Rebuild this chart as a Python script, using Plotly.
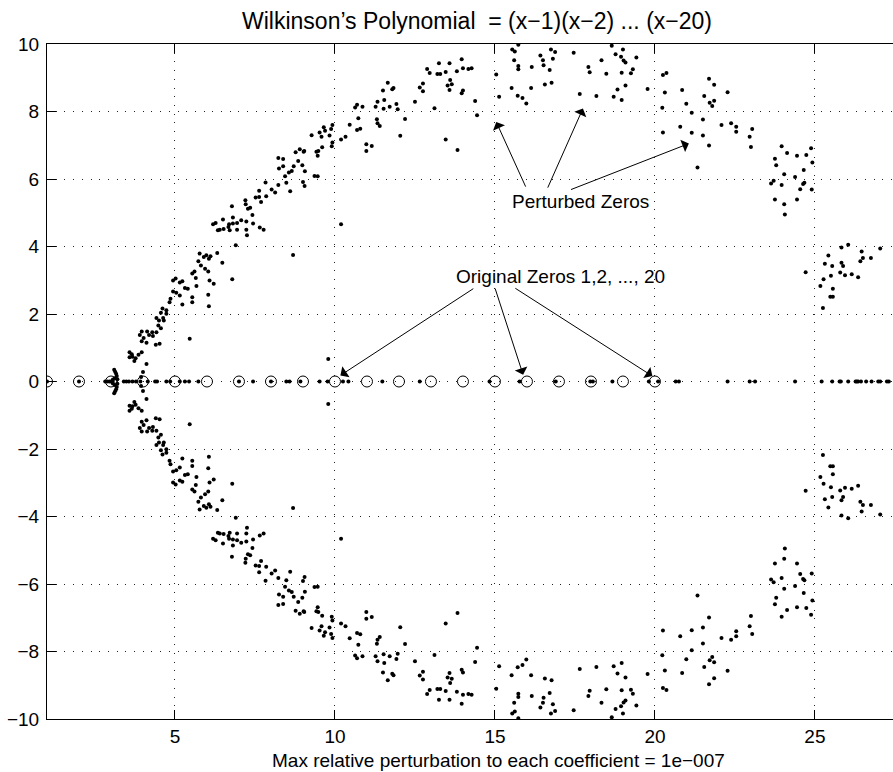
import plotly.graph_objects as go

# ---------------- data ----------------
original_zeros = list(range(1, 21))

# perturbed zeros on the real axis
real_roots = [1.0, 2.0, 2.82, 2.88, 2.95, 3.0, 3.05, 3.40, 3.48, 3.56, 3.67, 3.78,
              3.92, 4.15, 4.38, 4.44, 4.73, 4.85, 5.15, 5.31, 5.44, 5.73, 7.0, 7.44,
              8.0, 8.48, 8.58, 8.92, 9.52, 9.77, 10.25, 10.42, 11.48, 12.65,
              14.83, 15.77, 16.9, 17.98, 18.06, 18.67, 19.81, 20.10,
              20.65, 20.75, 22.27, 22.96, 23.13, 24.38, 25.21, 25.54, 25.77, 25.81,
              26.04, 26.27, 26.31, 26.35, 26.44, 26.60, 26.77, 26.98, 27.04, 27.25, 27.31]

# complex perturbed zeros, upper half (re, im); the lower half are their conjugates
near_three = [(3.10, 0.35), (3.13, 0.29), (3.16, 0.23), (3.18, 0.16), (3.12, 0.10),
              (3.06, 0.06), (3.20, 0.07)]

arc_low = [(6.06, 3.64), (6.48, 3.52), (6.79, 3.03), (5.73, 3.56), (5.81, 3.44), (5.94, 3.34),
           (6.04, 3.26), (5.61, 3.26), (5.54, 3.20), (5.65, 3.07), (5.67, 2.83), (6.08, 2.99),
           (6.21, 2.90), (6.04, 2.57), (6.06, 2.23), (4.94, 2.99), (5.02, 3.05), (5.15, 2.93),
           (5.23, 2.97), (5.31, 2.77), (5.40, 2.75), (4.94, 2.67), (5.04, 2.63), (5.15, 2.55),
           (5.23, 2.28), (5.54, 2.50), (5.54, 2.35), (4.86, 2.45), (4.83, 2.35), (4.73, 2.11),
           (4.73, 2.01), (4.61, 2.16), (4.56, 2.04), (4.63, 1.88), (4.50, 1.81), (4.42, 1.88),
           (4.65, 1.81), (4.56, 1.58), (4.42, 1.46), (4.48, 1.66), (4.29, 1.46), (4.19, 1.38),
           (4.31, 1.35), (4.13, 1.48), (3.96, 1.48), (3.90, 1.38), (4.02, 1.29), (3.96, 1.19),
           (4.11, 1.15), (4.40, 1.09), (4.52, 1.12), (5.46, 1.27), (3.58, 0.87), (3.65, 0.81),
           (3.67, 0.73), (3.58, 0.72), (3.77, 0.69), (3.73, 0.61), (3.86, 0.79), (3.96, 0.87),
           (4.11, 0.52), (4.00, 0.28), (3.94, 0.13)]

arc_mid = [(6.78, 5.19), (7.20, 5.37), (7.21, 5.25), (7.28, 5.12), (7.35, 5.15), (6.50, 4.80),
           (6.27, 4.70), (6.19, 4.66), (6.34, 4.48), (6.40, 4.50), (6.52, 4.52), (6.69, 4.66),
           (6.81, 4.86), (6.67, 4.58), (6.71, 4.48), (6.81, 4.68), (6.94, 4.70), (6.94, 4.50),
           (7.07, 4.78), (7.23, 4.74), (7.23, 4.50), (7.25, 4.33), (7.42, 4.93), (7.44, 4.68),
           (6.90, 4.04), (5.98, 3.74), (5.77, 3.79), (5.90, 3.69), (6.11, 3.71), (6.32, 3.81)]

arc_upper = [(7.65, 4.56), (7.77, 4.50), (7.52, 5.45), (7.63, 5.65), (7.63, 5.47), (7.69, 5.32),
             (7.85, 5.49), (7.83, 5.90), (8.02, 5.69), (8.13, 5.60), (8.23, 5.82), (8.23, 6.62),
             (8.38, 6.59), (8.25, 6.31), (8.38, 6.38), (8.44, 6.08), (8.48, 5.89), (8.60, 5.64),
             (8.56, 6.19), (8.65, 6.24), (8.71, 6.38), (8.85, 6.53), (8.77, 6.79), (8.90, 6.88),
             (9.02, 6.81), (9.04, 6.83), (8.98, 6.41), (9.06, 6.23), (9.00, 5.91), (9.05, 5.79),
             (9.36, 6.09), (9.46, 6.08), (9.27, 7.30), (9.42, 6.81), (9.48, 6.83), (9.46, 6.69),
             (9.60, 6.94), (9.52, 7.38), (9.58, 7.25), (9.65, 7.53), (9.69, 7.43), (9.83, 7.29),
             (9.88, 7.48), (9.92, 7.60), (9.90, 6.97), (9.92, 7.08), (10.19, 7.17), (10.33, 7.25),
             (10.46, 7.61), (10.63, 8.12), (10.69, 8.20), (10.86, 8.14), (10.73, 7.80), (10.69, 7.45),
             (10.79, 7.49), (10.98, 7.03), (10.98, 6.83), (11.15, 6.98), (11.27, 8.14), (11.33, 8.29),
             (11.31, 7.77), (11.33, 7.65), (11.40, 7.57), (11.50, 8.62), (11.54, 8.34), (11.52, 8.08),
             (11.65, 8.85), (11.71, 8.14), (11.79, 8.66), (11.83, 8.70), (11.92, 8.22), (11.96, 8.07),
             (12.04, 7.28), (12.19, 7.78), (12.50, 8.29), (12.65, 8.71), (12.75, 8.83), (12.75, 8.60),
             (12.88, 9.26), (12.96, 9.14), (13.11, 8.10), (13.20, 9.11), (13.29, 9.11), (13.25, 9.43),
             (13.46, 9.17), (13.46, 7.17), (13.58, 9.43), (13.60, 8.93), (13.52, 8.77), (13.65, 8.81),
             (13.58, 8.64), (13.81, 9.19), (13.96, 9.55), (14.00, 9.28), (13.83, 6.86), (13.96, 8.54),
             (14.00, 8.62), (8.69, 3.75), (10.19, 4.66), (9.79, 0.67)]

arc_top = [(14.17, 9.26), (14.27, 9.28), (14.38, 8.31), (14.44, 7.89), (15.04, 9.10), (15.13, 8.44),
           (15.54, 9.84), (15.62, 9.78), (15.73, 9.98), (15.60, 9.52), (15.73, 9.35), (15.73, 9.25),
           (16.15, 9.32), (15.52, 8.70), (15.71, 8.47), (15.86, 8.40), (15.98, 8.24), (16.13, 8.70),
           (16.42, 9.66), (16.50, 9.52), (16.52, 9.37), (16.71, 9.23), (16.56, 8.80), (16.77, 8.85),
           (16.75, 9.84), (16.88, 9.76), (16.81, 9.56), (17.46, 9.74), (17.65, 8.52), (17.92, 9.32),
           (17.96, 9.16), (18.17, 8.46), (18.33, 9.52), (18.48, 9.12), (18.65, 9.95), (18.77, 9.70),
           (19.00, 9.84), (18.94, 9.62), (19.02, 9.51), (19.08, 9.45), (18.96, 9.15), (19.31, 9.25),
           (19.25, 9.13), (19.42, 9.60), (18.83, 8.65), (19.08, 8.77), (18.71, 8.44), (18.96, 8.34),
           (19.77, 8.67), (20.25, 9.08), (20.36, 9.14), (20.31, 8.56), (20.23, 8.11), (20.25, 7.38)]

arc_right = [(20.85, 8.64), (20.98, 8.23), (21.15, 7.96), (20.79, 7.55), (21.15, 7.37), (21.33, 6.34),
             (21.50, 7.76), (21.50, 7.29), (21.54, 8.46), (21.69, 8.97), (21.85, 8.79), (21.71, 8.26),
             (21.79, 8.16), (21.85, 8.32), (21.69, 6.99), (22.08, 7.60), (22.27, 8.57), (22.38, 7.65),
             (22.54, 7.55), (22.54, 7.40), (22.96, 7.25), (23.04, 7.48), (23.00, 6.95), (23.96, 6.97),
             (24.13, 6.77), (23.75, 6.60), (23.79, 6.41), (24.04, 6.14), (24.38, 6.06), (24.44, 6.69),
             (24.73, 6.71), (24.88, 6.91), (24.92, 6.49), (24.65, 6.27), (23.63, 5.87), (23.71, 5.95),
             (23.96, 5.82), (24.54, 5.70), (24.63, 5.85), (24.67, 5.89), (24.90, 5.69), (23.75, 5.39),
             (24.04, 5.25), (24.06, 4.95), (24.44, 5.39), (25.42, 3.73), (25.83, 3.97), (26.04, 4.05),
             (26.46, 3.85), (26.50, 3.66), (26.75, 3.66), (27.04, 3.94), (25.31, 3.49), (25.54, 3.42),
             (25.83, 3.52), (25.88, 3.42), (26.42, 3.56), (24.71, 3.24), (25.27, 3.03), (25.50, 3.13),
             (25.79, 3.23), (25.94, 3.15), (26.15, 3.18), (26.35, 3.09), (25.17, 2.83), (25.56, 2.75),
             (25.48, 2.51), (25.56, 2.51), (25.25, 2.18)]

# text
title_text = "Wilkinson\u2019s Polynomial  = (x\u22121)(x\u22122) ... (x\u221220)"
xlabel_text = "Max relative perturbation to each coefficient = 1e\u2212007"
perturbed_label = "Perturbed Zeros"
original_label = "Original Zeros 1,2, ..., 20"
x_ticks = [5, 10, 15, 20, 25]
y_ticks = [-10, -8, -6, -4, -2, 0, 2, 4, 6, 8, 10]

# ---------------- build ----------------
upper = near_three + arc_low + arc_mid + arc_upper + arc_top + arc_right
xs = [p[0] for p in upper] + [p[0] for p in upper] + real_roots
ys = [p[1] for p in upper] + [-p[1] for p in upper] + [0.0] * len(real_roots)

FONT = "Liberation Sans, Arial, Helvetica, sans-serif"

fig = go.Figure()
fig.add_trace(go.Scatter(x=original_zeros, y=[0] * len(original_zeros), mode="markers",
                         marker=dict(symbol="circle-open", size=11, color="black",
                                     line=dict(width=1, color="black")),
                         hoverinfo="skip", showlegend=False))
fig.add_trace(go.Scatter(x=xs, y=ys, mode="markers",
                         marker=dict(symbol="circle", size=4, color="black"),
                         showlegend=False))

grid_dash = "1px,7.7px"
fig.update_xaxes(range=[1, 27.44], tickvals=x_ticks, showgrid=True, gridcolor="#222",
                 griddash=grid_dash, gridwidth=1, zeroline=False, showline=True,
                 linecolor="black", linewidth=1, mirror="ticks", ticks="inside", ticklen=9,
                 tickcolor="black", tickfont=dict(family=FONT, size=19, color="black"))
fig.update_yaxes(range=[-10, 10], tickvals=y_ticks, showgrid=True, gridcolor="#222",
                 griddash=grid_dash, gridwidth=1, zeroline=False, showline=True,
                 linecolor="black", linewidth=1, ticks="inside", ticklen=9,
                 tickcolor="black", ticklabelstandoff=3,
                 tickfont=dict(family=FONT, size=19, color="black"))

annotations = []
# text labels
annotations.append(dict(x=17.66, y=5.34, xref="x", yref="y", text=perturbed_label,
                        showarrow=False, font=dict(family=FONT, size=19, color="black")))
annotations.append(dict(x=17.05, y=3.12, xref="x", yref="y", text=original_label,
                        showarrow=False, font=dict(family=FONT, size=19, color="black")))
# arrows (tip, tail)
arrows = [((15.04, 7.69), (15.98, 5.73)),
          ((17.75, 8.09), (16.63, 5.70)),
          ((21.06, 7.05), (17.33, 5.67)),
          ((10.17, 0.18), (14.37, 2.78)),
          ((15.88, 0.20), (14.99, 2.80)),
          ((19.92, 0.16), (15.59, 2.79))]
for (tx, ty), (sx, sy) in arrows:
    annotations.append(dict(x=tx, y=ty, xref="x", yref="y", ax=sx, ay=sy, axref="x", ayref="y",
                            text="", showarrow=True, arrowhead=1, arrowsize=2.2,
                            arrowwidth=1, arrowcolor="black"))
# x label (centre ~41 px below the plot area)
annotations.append(dict(x=477 / 893, y=-41 / 675, xref="paper", yref="paper",
                        xanchor="center", yanchor="middle", text=xlabel_text,
                        showarrow=False, font=dict(family=FONT, size=19, color="black")))

fig.update_layout(
    width=893, height=772,
    margin=dict(l=47, r=0, t=44, b=53),
    paper_bgcolor="white", plot_bgcolor="white",
    title=dict(text=title_text, x=477 / 893, xanchor="center", y=1 - 21 / 772,
               yanchor="middle", font=dict(family=FONT, size=23, color="black")),
    annotations=annotations,
    showlegend=False,
)

fig.write_html("out.html")
